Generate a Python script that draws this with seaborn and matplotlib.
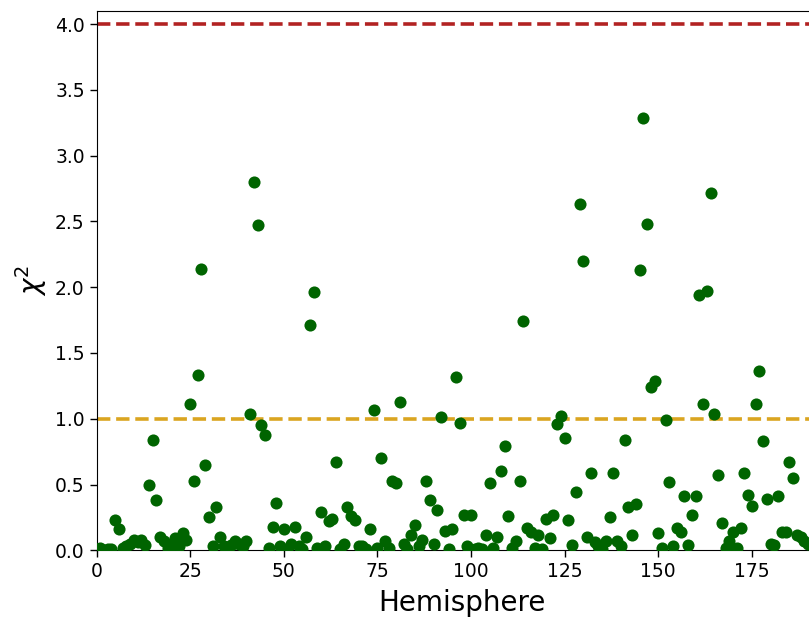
import numpy as np
import pandas as pd
import matplotlib
matplotlib.use("Agg")
import matplotlib.pyplot as plt
import seaborn as sns

# chi-square value per hemisphere index
chi2 = [
    0.01, 0.02, 0.00, 0.01, 0.01, 0.23, 0.16, 0.02, 0.03, 0.05,
    0.08, 0.06, 0.08, 0.04, 0.50, 0.84, 0.38, 0.10, 0.07, 0.02,
    0.03, 0.09, 0.03, 0.13, 0.08, 1.11, 0.53, 1.33, 2.14, 0.65,
    0.25, 0.03, 0.33, 0.10, 0.03, 0.02, 0.04, 0.07, 0.05, 0.03,
    0.07, 1.04, 2.80, 2.47, 0.95, 0.88, 0.02, 0.18, 0.36, 0.03,
    0.16, 0.01, 0.05, 0.18, 0.03, 0.01, 0.10, 1.71, 1.96, 0.02,
    0.29, 0.03, 0.22, 0.24, 0.67, 0.01, 0.05, 0.33, 0.26, 0.23,
    0.03, 0.03, 0.01, 0.16, 1.07, 0.02, 0.70, 0.07, 0.02, 0.53,
    0.51, 1.13, 0.05, 0.01, 0.12, 0.19, 0.03, 0.08, 0.53, 0.38,
    0.05, 0.31, 1.01, 0.15, 0.01, 0.16, 1.32, 0.97, 0.27, 0.03,
    0.27, 0.01, 0.02, 0.01, 0.12, 0.51, 0.02, 0.10, 0.60, 0.79,
    0.26, 0.02, 0.07, 0.53, 1.74, 0.17, 0.14, 0.02, 0.12, 0.01,
    0.24, 0.09, 0.27, 0.96, 1.02, 0.85, 0.23, 0.04, 0.44, 2.63,
    2.20, 0.10, 0.59, 0.06, 0.03, 0.01, 0.07, 0.25, 0.59, 0.07,
    0.03, 0.84, 0.33, 0.12, 0.35, 2.13, 3.29, 2.48, 1.24, 1.29,
    0.13, 0.02, 0.99, 0.52, 0.03, 0.17, 0.14, 0.41, 0.04, 0.27,
    0.41, 1.94, 1.11, 1.97, 2.72, 1.04, 0.57, 0.21, 0.02, 0.07,
    0.14, 0.02, 0.17, 0.59, 0.42, 0.34, 1.11, 1.36, 0.83, 0.39,
    0.05, 0.04, 0.41, 0.14, 0.14, 0.67, 0.55, 0.12, 0.10, 0.07,
    0.05,
]
hemisphere = list(range(len(chi2)))

# reference thresholds
upper_limit = 4.0
unit_level = 1.0

x_ticks = [0, 25, 50, 75, 100, 125, 150, 175]
y_ticks = [0.0, 0.5, 1.0, 1.5, 2.0, 2.5, 3.0, 3.5, 4.0]

df = pd.DataFrame({"Hemisphere": hemisphere, "chi2": chi2})

W, H = 809, 619
fig = plt.figure(figsize=(W / 100, H / 100), dpi=100)

x_max = 195
px_per_unit = 3.745
left = 96.5 / W
bottom = (H - 550.3) / H
height = (550.3 - 11) / H
width = x_max * px_per_unit / W
ax = fig.add_axes([left, bottom, width, height])

sns.scatterplot(data=df, x="Hemisphere", y="chi2", ax=ax,
                color="darkgreen", s=76, linewidth=0, zorder=3)

ax.axhline(upper_limit, color="firebrick", linestyle="--", linewidth=2.6, zorder=2)
ax.axhline(unit_level, color="goldenrod", linestyle="--", linewidth=2.6, zorder=2)

ax.set_xlim(0, x_max)
ax.set_ylim(0, 4.1)
ax.set_xticks(x_ticks)
ax.set_yticks(y_ticks)
ax.set_yticklabels([f"{v:.1f}" for v in y_ticks])
ax.tick_params(axis="both", labelsize=13.5, length=5, width=1)
ax.set_xlabel("Hemisphere", fontsize=20, labelpad=6)
ax.set_ylabel(r"$\chi^2$", fontsize=20)

fig.savefig("out.png", dpi=100)
